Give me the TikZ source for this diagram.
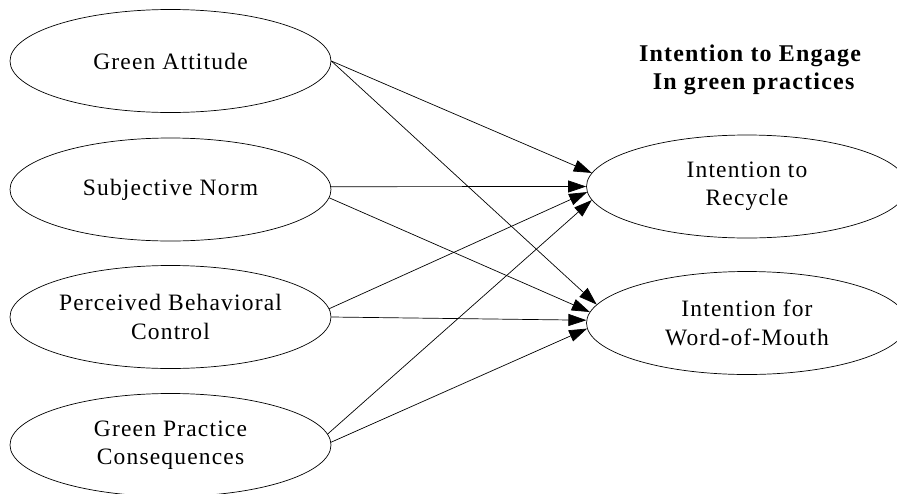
\documentclass[tikz,border=0pt]{standalone}
\usepackage{fontspec}
\setmainfont{Liberation Serif}[LetterSpace=5]
\usetikzlibrary{shapes.geometric,arrows.meta}
\begin{document}
\begin{tikzpicture}[x=1pt,y=-1pt,
  construct/.style={ellipse, draw, line width=0.7pt, minimum width=321pt, minimum height=103pt, inner sep=0pt, align=center, font=\fontsize{23.5}{28.5}\selectfont},
  path/.style={line width=0.7pt, -{Triangle[length=18pt,width=12pt]}}]
\useasboundingbox (0,0) rectangle (897,493);
\node[construct] (ga) at (170.5,61) {Green Attitude};
\node[construct] (sn) at (170.5,189.5) {Subjective Norm};
\node[construct] (pbc) at (170.5,317) {Perceived Behavioral\\Control};
\node[construct] (gpc) at (170.5,445) {Green Practice\\Consequences};
\node[construct] (ir) at (747,186.5) {Intention to\\Recycle};
\node[construct] (iw) at (747,323) {Intention for\\Word-of-Mouth};
\node[align=center, font=\fontsize{24}{28}\selectfont\bfseries] (title) at (750,71) {Intention to Engage\\\strut\ In green practices};
\draw[path] (ga.east) -- (ir.175);
\draw[path] (ga.east) -- (iw.173);
\draw[path] (sn.1) -- (ir.180);
\draw[path] (sn.-3) -- (iw.176);
\draw[path] (pbc.3) -- (ir.182);
\draw[path] (pbc.east) -- (iw.179);
\draw[path] (gpc.4) -- (ir.185);
\draw[path] (gpc.1) -- (iw.182);
\end{tikzpicture}
\end{document}
